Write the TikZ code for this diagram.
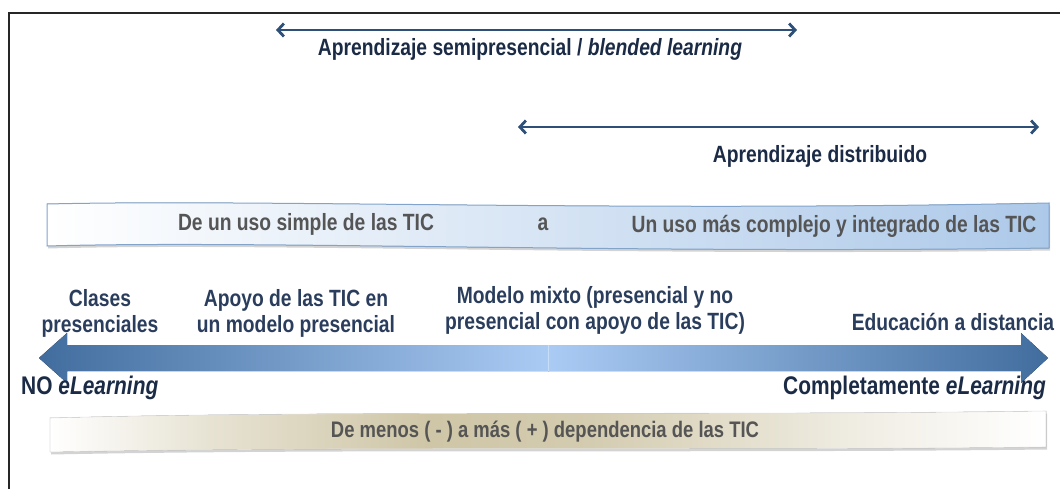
\documentclass[tikz,border=0pt]{standalone}
\usepackage{fontspec}
\setmainfont[FakeStretch=0.82]{Liberation Sans}
\usetikzlibrary{arrows.meta,shadows}
\definecolor{navy}{HTML}{2D4F78}
\definecolor{txtnavy}{HTML}{2A3D5C}
\definecolor{darknavy}{HTML}{1B2B46}
\definecolor{gtext}{HTML}{555555}
\definecolor{ablue}{HTML}{416D9E}
\definecolor{alight}{HTML}{AACBF4}
\definecolor{rblue}{HTML}{ADC9E9}
\definecolor{redge}{HTML}{82A4CA}
\definecolor{khaki}{HTML}{CFC6A7}
\pgfdeclarehorizontalshading{ribtwo}{100bp}{color(0bp)=(white); color(25bp)=(white); color(33bp)=(khaki!50!white); color(44bp)=(khaki); color(52bp)=(khaki!90!white); color(66bp)=(khaki!30!white); color(75bp)=(white); color(100bp)=(white)}
\begin{document}
\begin{tikzpicture}[x=1pt,y=-1pt,
  lbl/.style={font=\bfseries\fontsize{23.5}{26}\selectfont, text=txtnavy, align=center, inner sep=0pt},
  endlbl/.style={font=\bfseries\fontsize{25.5}{28}\selectfont, text=darknavy, inner sep=0pt},
  rtxt/.style={font=\bfseries\fontsize{23.5}{26}\selectfont, text=gtext, inner sep=0pt},
  dbl/.style={navy, line width=2.8pt, {Straight Barb[length=6pt,width=13pt]}-{Straight Barb[length=6pt,width=13pt]}},
  ribbon/.style={drop shadow={opacity=0.35, shadow xshift=1pt, shadow yshift=-2.5pt}},
]
\useasboundingbox (0,0) rectangle (1060,489);
\draw[line width=1.3pt, black!85] (9,489) -- (9,13) -- (1060,13);

% thin double arrows
\coordinate (a1l) at (276,30);
\coordinate (a1r) at (797,30);
\draw[dbl] (a1l) -- (a1r);
\node[lbl, text=darknavy] (t1) at (530,49) {Aprendizaje semipresencial / \textit{blended learning}};

\coordinate (a2l) at (518,127);
\coordinate (a2r) at (1039,127);
\draw[dbl] (a2l) -- (a2r);
\node[lbl, text=darknavy] (t2) at (820,156) {Aprendizaje distribuido};

% ribbon 1
\fill[ribbon, left color=white, right color=rblue, draw=redge, line width=1pt]
  (47,204) .. controls (260,199) and (620,212) .. (1049,203) -- (1049,248)
  .. controls (620,254) and (260,240) .. (47,246) -- cycle;
\node[rtxt] (r1a) at (306,224) {De un uso simple de las TIC};
\node[rtxt] (r1b) at (543,224) {a};
\node[rtxt] (r1c) at (834,226) {Un uso más complejo y integrado de las TIC};

% labels
\node[lbl] (c1) at (100,313) {Clases\\presenciales};
\node[lbl] (c2) at (296,313) {Apoyo de las TIC en\\un modelo presencial};
\node[lbl] (c3) at (595,310) {Modelo mixto (presencial y no\\presencial con apoyo de las TIC)};
\node[lbl] (c4) at (953,322) {Educación a distancia};

% big arrow
\fill[left color=ablue, right color=alight]
  (39,358) -- (67,333) -- (67,345) -- (549,345) -- (549,371) -- (67,371) -- (67,383) -- cycle;
\fill[left color=alight, right color=ablue]
  (548,345) -- (1021,345) -- (1021,333) -- (1048,358) -- (1021,383) -- (1021,371) -- (548,371) -- cycle;
\draw[white, opacity=0.35, line width=0.6pt] (548.5,345) -- (548.5,371);

\node[endlbl, anchor=west] (no) at (21,388) {NO \textit{eLearning}};
\node[endlbl, anchor=east] (comp) at (1046,388) {Completamente \textit{eLearning}};

% ribbon 2
\fill[ribbon, shading=ribtwo, draw=black!12, line width=0.6pt]
  (50,418) .. controls (350,410) and (700,416) .. (1046,411) -- (1046,447)
  .. controls (700,451) and (350,446) .. (50,452) -- cycle;
\node[rtxt, font=\bfseries\fontsize{22.5}{25}\selectfont] (r2) at (545,432) {De menos ( - ) a más ( + ) dependencia de las TIC};
\end{tikzpicture}
\end{document}
